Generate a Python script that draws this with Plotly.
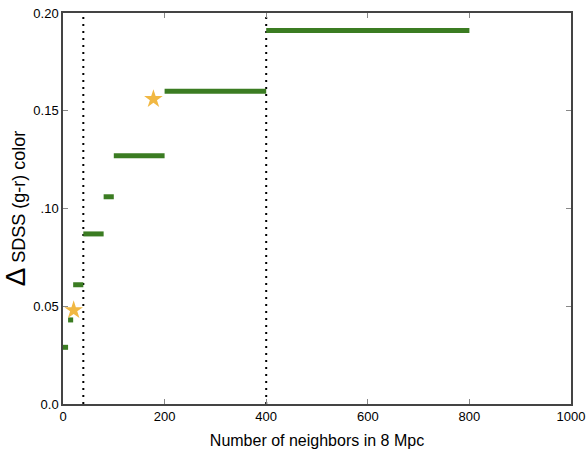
import plotly.graph_objects as go

# Step data: neighbor-count bins and colour offsets
bin_low = [0, 10, 20, 40, 80, 100, 200, 400]
bin_high = [10, 20, 40, 80, 100, 200, 400, 800]
delta_color = [0.029, 0.043, 0.061, 0.087, 0.106, 0.127, 0.160, 0.191]

star_x = [21, 178]
star_y = [0.048, 0.156]

vline_x = [40, 400]

y_tickvals = [0.0, 0.05, 0.10, 0.15, 0.20]
y_ticktext = ["0.0", "0.05", ".10", "0.15", "0.20"]
x_tickvals = [0, 200, 400, 600, 800, 1000]

GREEN = "#3b7c22"
STAR = "#f1b843"

fig = go.Figure()

for xv in vline_x:
    fig.add_trace(go.Scatter(
        x=[xv, xv], y=[0, 0.2], mode="lines",
        line=dict(color="black", width=2, dash="2px,5px"),
        hoverinfo="skip", showlegend=False))

for lo, hi, v in zip(bin_low, bin_high, delta_color):
    fig.add_trace(go.Scatter(
        x=[lo, hi], y=[v, v], mode="lines",
        line=dict(color=GREEN, width=5),
        showlegend=False))

fig.add_trace(go.Scatter(
    x=star_x, y=star_y, mode="markers",
    marker=dict(symbol="star", size=14, color=STAR, line=dict(width=0)),
    showlegend=False))

axis_common = dict(
    showline=True, linecolor="#444", linewidth=1.5, mirror="ticks",
    ticks="inside", ticklen=5, tickcolor="#888", tickwidth=1,
    showgrid=False, zeroline=False, automargin=False,
    tickfont=dict(family="Liberation Sans, Arial, sans-serif", size=13, color="black"),
)

fig.update_layout(
    width=587, height=456,
    margin=dict(l=63, r=16, t=13, b=52),
    plot_bgcolor="white", paper_bgcolor="white",
    font=dict(family="Liberation Sans, Arial, sans-serif", color="black"),
    xaxis=dict(range=[0, 1000], tickvals=x_tickvals,
               title=dict(text="Number of neighbors in 8 Mpc", font=dict(size=16), standoff=11),
               **axis_common),
    yaxis=dict(range=[0, 0.2], tickvals=y_tickvals, ticktext=y_ticktext,
               title=dict(text="<span style='font-size:28px'>Δ</span> SDSS (g-r) color",
                          font=dict(size=18), standoff=8),
               **axis_common),
)

fig.write_html("out.html")
